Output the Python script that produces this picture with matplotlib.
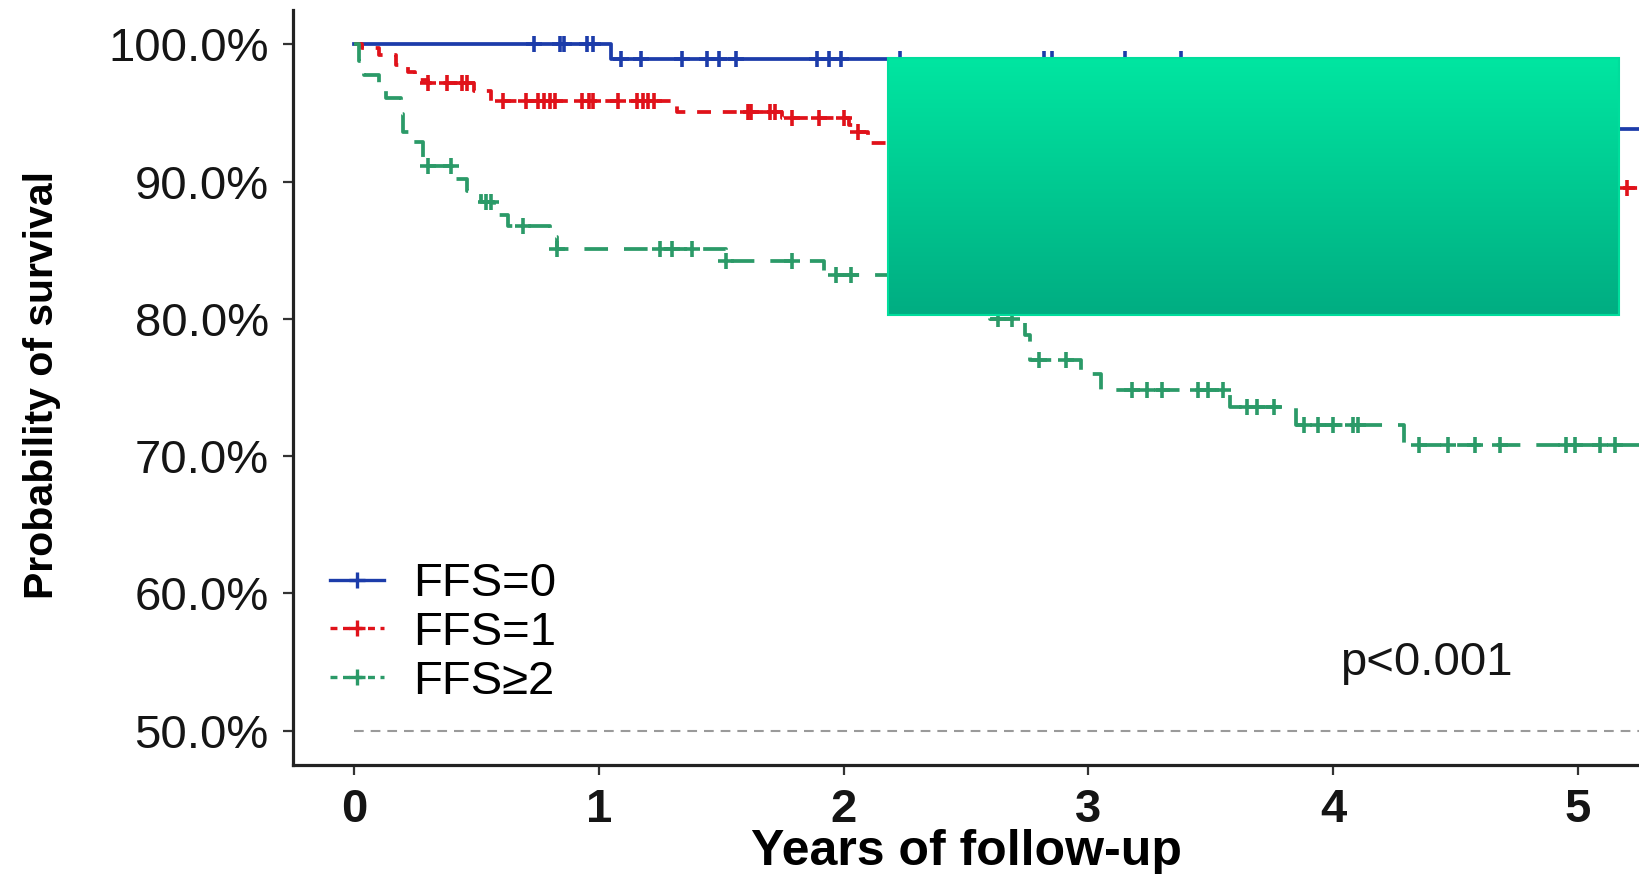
import numpy as np
import matplotlib
matplotlib.use("Agg")
import matplotlib.pyplot as plt
from matplotlib.lines import Line2D
from matplotlib.ticker import PercentFormatter

plt.rcParams['font.family'] = ['Liberation Sans', 'DejaVu Sans']
plt.rcParams['lines.scale_dashes'] = False

# Kaplan-Meier step curves (time in years, survival in %)
ffs0_time = [0.0, 1.05, 3.50, 4.20, 4.80, 5.30]
ffs0_surv = [100.0, 98.9, 97.5, 95.8, 93.8, 93.8]
ffs0_cens = [0.735, 0.84, 0.857, 0.95, 0.976, 1.09, 1.17, 1.34, 1.44, 1.49, 1.56,
             1.89, 1.94, 1.99, 2.23, 2.82, 2.85, 3.15, 3.38]

ffs1_time = [0.0, 0.03, 0.10, 0.17, 0.22, 0.25, 0.30, 0.49, 0.56, 1.32, 1.75,
             2.02, 2.05, 2.10, 2.60, 3.20, 3.90, 4.60, 5.30]
ffs1_surv = [100.0, 99.7, 99.2, 98.5, 98.0, 97.4, 97.2, 96.6, 95.9, 95.1, 94.6,
             94.1, 93.6, 92.8, 92.0, 91.2, 90.3, 89.5, 89.5]
ffs1_cens = [0.30, 0.38, 0.44, 0.46, 0.607, 0.703, 0.751, 0.775, 0.80, 0.82, 0.93,
             0.96, 0.977, 1.08, 1.155, 1.18, 1.20, 1.227, 1.61, 1.62, 1.70, 1.72,
             1.79, 1.90, 2.0, 2.06, 5.20]

ffs2_time = [0.0, 0.02, 0.04, 0.10, 0.13, 0.19, 0.20, 0.24, 0.28, 0.40, 0.46, 0.52,
             0.57, 0.63, 0.80, 0.83, 1.52, 1.92, 2.35, 2.50, 2.60, 2.74, 2.76,
             2.97, 3.05, 3.58, 3.85, 4.29, 5.30]
ffs2_surv = [100.0, 98.8, 97.8, 96.8, 96.1, 94.9, 93.6, 92.9, 91.1, 90.2, 89.3, 88.5,
             87.6, 86.8, 86.0, 85.1, 84.2, 83.2, 82.0, 81.0, 80.0, 78.8, 77.0,
             76.0, 74.8, 73.6, 72.3, 70.8, 70.8]
ffs2_cens = [0.30, 0.396, 0.54, 0.56, 0.69, 0.83, 1.25, 1.30, 1.38, 1.52, 1.79,
             1.97, 2.03, 2.63, 2.69, 2.80, 2.91, 3.18, 3.24, 3.30, 3.45, 3.49, 3.55,
             3.65, 3.69, 3.76, 3.88, 3.94, 4.00, 4.08, 4.10, 4.35, 4.47, 4.58, 4.68,
             4.95, 4.99, 5.09, 5.15]

labels = ['FFS=0', 'FFS=1', 'FFS≥2']
colors = ['#1c3caa', '#e0121a', '#2b9a68']
dashes = [None, (10, 8.5), (17, 11.5)]

fig = plt.figure(figsize=(16.39, 8.74), dpi=100)
ax = fig.add_axes([293 / 1639, 109 / 874, 1346 / 1639, 755 / 874])

curves = [(ffs0_time, ffs0_surv, ffs0_cens),
          (ffs1_time, ffs1_surv, ffs1_cens),
          (ffs2_time, ffs2_surv, ffs2_cens)]

handles = []
for (t, s, cens), col, dsh in zip(curves, colors, dashes):
    t = np.asarray(t)
    s = np.asarray(s)
    line, = ax.step(t, s, where='post', color=col, lw=2.7, zorder=3)
    if dsh is not None:
        line.set_dashes(dsh)
    # censoring ticks sit on the step level at that time
    idx = np.searchsorted(t, cens, side='right') - 1
    ax.plot(cens, s[idx], ls='none', marker='+', ms=12, mew=2.6,
            color=col, zorder=3)
    h = Line2D([], [], color=col, lw=2.4, marker='+', ms=12, mew=2.4)
    if dsh is not None:
        h.set_dashes((5, 4))
    handles.append(h)

# median reference line
ref = ax.plot([0, 5.3], [50, 50], color='#9a9a9a', lw=1.5, zorder=2)[0]
ref.set_dashes((7, 5))

# gradient box over the upper right part of the plot
grad = np.linspace(0, 1, 256).reshape(-1, 1)
top_col = np.array([0x00, 0xe6, 0xa1]) / 255
bot_col = np.array([0x00, 0xad, 0x82]) / 255
rgb = top_col[None, None, :] * (1 - grad[..., None]) + bot_col[None, None, :] * grad[..., None]
ax.imshow(rgb, extent=(2.18, 5.17, 80.3, 98.98), aspect='auto',
          zorder=5, interpolation='bilinear')
ax.add_patch(plt.Rectangle((2.18, 80.3), 5.17 - 2.18, 98.98 - 80.3, fill=False,
                           ec='#00dd9c', lw=1.5, zorder=6))

ax.set_xlim(-0.25, 5.25)
ax.set_ylim(47.5, 102.5)
ax.set_xticks([0, 1, 2, 3, 4, 5])
ax.set_yticks([50, 60, 70, 80, 90, 100])
ax.yaxis.set_major_formatter(PercentFormatter(xmax=100, decimals=1))

for side in ['top', 'right']:
    ax.spines[side].set_visible(False)
for side in ['left', 'bottom']:
    ax.spines[side].set_linewidth(2.3)
    ax.spines[side].set_color('#222222')
ax.tick_params(axis='both', length=7.5, width=1.6, color='#333333',
               labelsize=34, labelcolor='#151515', pad=10)
ax.tick_params(axis='x', pad=9)
for lbl in ax.get_xticklabels():
    lbl.set_fontweight('bold')

ax.set_xlabel('Years of follow-up', fontsize=36, fontweight='bold')
ax.xaxis.set_label_coords(0.5, -0.085)
ax.set_ylabel('Probability of survival', fontsize=29.5, fontweight='bold')
ax.yaxis.set_label_coords(-0.172, 0.503)

ax.legend(handles, labels, loc='center left', bbox_to_anchor=(0.0275, 0.175),
          frameon=False, fontsize=34, handlelength=1.15, handletextpad=0.6,
          labelspacing=0.1, borderpad=0, borderaxespad=0)

ax.text(4.03, 54.9, 'p<0.001', fontsize=34, va='center', ha='left', color='#151515')

fig.savefig('out.png', dpi=100)
